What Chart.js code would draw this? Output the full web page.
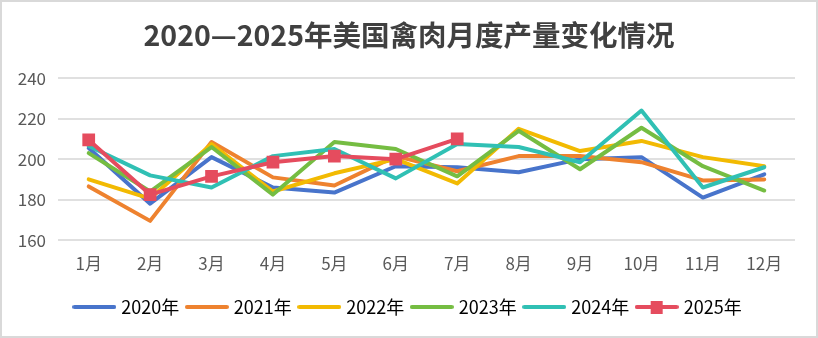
<!DOCTYPE html>
<html>
<head>
<meta charset="utf-8">
<script src="https://cdn.jsdelivr.net/npm/chart.js@4.4.1/dist/chart.umd.min.js"></script>
<style>
    html, body { margin: 0; padding: 0; background: #fff; }
    .chart-box {
        width: 818px;
        height: 338px;
        box-sizing: border-box;
        border: 2px solid #d9d9d9;
        background: #fff;
    }
    .chart-box canvas { display: block; }
</style>
</head>
<body>
<div class="chart-box">
    <canvas id="poultry-chart" width="814" height="334"></canvas>
</div>
<script>
// ---- DATA ----
const months = ['1月', '2月', '3月', '4月', '5月', '6月', '7月', '8月', '9月', '10月', '11月', '12月'];
const years = ['2020年', '2021年', '2022年', '2023年', '2024年', '2025年'];

const output2020 = [205.5, 178, 201, 186, 183.5, 196.5, 196, 193.5, 200, 201, 181, 192.5];
const output2021 = [186.5, 169.5, 208.5, 191, 187, 201.5, 194, 201.5, 201.5, 198.5, 189.5, 190];
const output2022 = [190, 180.5, 207.5, 184, 193, 200, 188, 215, 204, 209, 201, 196.5];
const output2023 = [203, 184, 206, 182.5, 208.5, 205, 191.5, 214, 195, 215.5, 196.5, 184.5];
const output2024 = [206.5, 192, 186, 201.5, 205, 190.5, 207.5, 206, 198.5, 224, 186, 196];
const output2025 = [209.5, 182.5, 191.5, 198.5, 201.5, 200, 210];

const yTicks = [160, 180, 200, 220, 240];

const colors = ['#4874CB', '#EE822F', '#F2BA02', '#75BD42', '#30C0B4', '#E54C5E'];
const series = [output2020, output2021, output2022, output2023, output2024, output2025];

// small line sample for the legend, 2025 gets its square marker too
function legendIcon(color, withMarker) {
    const c = document.createElement('canvas');
    c.width = 44;
    c.height = 14;
    const g = c.getContext('2d');
    g.strokeStyle = color;
    g.lineWidth = 4;
    g.lineCap = 'round';
    g.beginPath();
    g.moveTo(2, 7);
    g.lineTo(42, 7);
    g.stroke();
    if (withMarker) {
        g.fillStyle = color;
        g.fillRect(16, 1, 12, 13);
    }
    return c;
}

Chart.defaults.font.family = "'Noto Sans CJK SC', 'Noto Sans', sans-serif";
Chart.defaults.color = '#595959';

const datasets = series.map((values, i) => {
    const isLatest = i === series.length - 1;
    return {
        label: years[i],
        data: values,
        borderColor: colors[i],
        backgroundColor: colors[i],
        borderWidth: 4,
        borderCapStyle: 'round',
        borderJoinStyle: 'round',
        tension: 0,
        fill: false,
        pointStyle: 'rect',
        pointRadius: isLatest ? 9 : 0,
        pointBorderWidth: 0,
        pointBackgroundColor: colors[i],
        pointHoverRadius: isLatest ? 9 : 0,
        order: series.length - i,
        legendIcon: legendIcon(colors[i], isLatest)
    };
});

new Chart(document.getElementById('poultry-chart'), {
    type: 'line',
    data: {
        labels: months,
        datasets: datasets
    },
    options: {
        responsive: false,
        animation: false,
        layout: {
            padding: { left: 0, right: 0, top: 0, bottom: 10 }
        },
        plugins: {
            title: {
                display: true,
                text: '2020—2025年美国禽肉月度产量变化情况',
                color: '#404040',
                font: { size: 28.5, weight: 'bold' },
                padding: { top: 16, bottom: 26 }
            },
            legend: {
                position: 'bottom',
                labels: {
                    usePointStyle: true,
                    pointStyleWidth: 36,
                    boxHeight: 14,
                    padding: 9.5,
                    color: '#595959',
                    font: { size: 18 },
                    generateLabels(chart) {
                        return chart.data.datasets.map((ds, i) => ({
                            text: ds.label,
                            pointStyle: ds.legendIcon,
                            fillStyle: ds.borderColor,
                            strokeStyle: ds.borderColor,
                            lineWidth: 0,
                            hidden: false,
                            datasetIndex: i
                        }));
                    }
                }
            },
            tooltip: { enabled: false }
        },
        scales: {
            x: {
                offset: true,
                grid: { display: false, drawTicks: false },
                border: { display: false },
                ticks: {
                    padding: 13,
                    color: '#595959',
                    font: { size: 17 }
                },
                afterFit(scale) {
                    scale.height += 2;
                }
            },
            y: {
                min: 160,
                max: 240,
                afterBuildTicks(scale) {
                    scale.ticks = yTicks.map(v => ({ value: v }));
                },
                grid: {
                    color: '#e0e0e0',
                    lineWidth: 2,
                    drawTicks: false
                },
                border: { display: false },
                ticks: {
                    padding: 12,
                    color: '#595959',
                    font: { size: 17 }
                },
                afterFit(scale) {
                    scale.width = 56;
                }
            },
            // empty right-hand margin so the plot stops short of the frame
            margin: {
                position: 'right',
                grid: { display: false, drawTicks: false },
                border: { display: false },
                ticks: { display: false },
                afterFit(scale) {
                    scale.width = 21;
                }
            }
        }
    }
});
</script>
</body>
</html>
